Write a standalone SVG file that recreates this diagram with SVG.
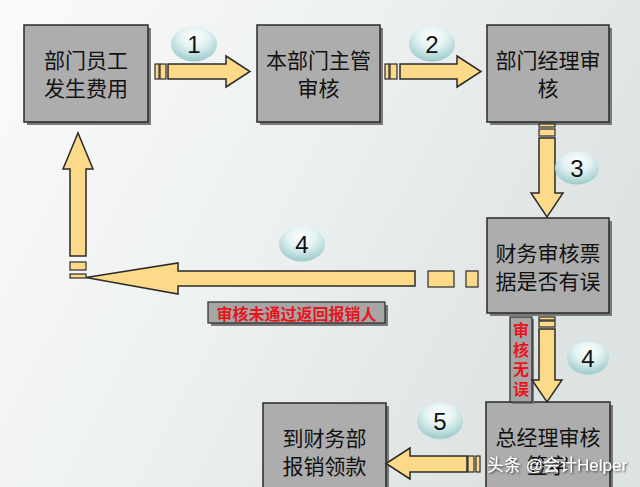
<svg xmlns="http://www.w3.org/2000/svg" width="640" height="487" viewBox="0 0 640 487">
<defs>
<linearGradient id="bg" x1="0" y1="0" x2="1" y2="0.4">
<stop offset="0" stop-color="#fafafa"/>
<stop offset="0.5" stop-color="#eef1f1"/>
<stop offset="1" stop-color="#dde2e2"/>
</linearGradient>
<radialGradient id="bub" cx="0.5" cy="0.3" r="0.7">
<stop offset="0" stop-color="#ffffff"/>
<stop offset="0.45" stop-color="#e2f2f2"/>
<stop offset="1" stop-color="#9ccaca"/>
</radialGradient>
<filter id="ds" x="-10%" y="-30%" width="120%" height="160%">
<feDropShadow dx="1" dy="1" stdDeviation="0.8" flood-color="#000" flood-opacity="0.7"/>
</filter>
<style>
.shadow{fill:#7a7a7a}
.box{fill:#adadad;stroke:#2a2a2a;stroke-width:1.5}
.t{font-family:"Noto Sans CJK SC","Noto Sans",sans-serif;font-size:21px;fill:#111;text-anchor:middle;dominant-baseline:central}
.arr{fill:#fdd98a;stroke:#2a2a2a;stroke-width:1.5;stroke-linejoin:miter}
.bar{fill:#fdd98a;stroke:#2a2a2a;stroke-width:1.2}
.bub{fill:url(#bub)}
.n{font-family:"Liberation Sans",Arial,sans-serif;font-size:24px;fill:#111;text-anchor:middle;dominant-baseline:central}
.lbl{fill:#a6a6a6;stroke:#2a2a2a;stroke-width:1.2}
.red{font-family:"Noto Sans CJK SC",sans-serif;font-size:16px;font-weight:bold;fill:#e8141e;text-anchor:middle;dominant-baseline:central}
.wm{font-family:"Liberation Sans","Noto Sans CJK SC",sans-serif;font-size:17px;fill:#fff;filter:url(#ds)}
</style>
</defs>
<rect width="640" height="487" fill="url(#bg)"/>

<g id="node-employee">
<rect class="shadow" x="27" y="28" width="124" height="97"/>
<rect class="box" x="24" y="25" width="124" height="97"/>
<text class="t" x="86" y="59">部门员工<tspan x="86" dy="28">发生费用</tspan></text>
</g>
<g id="node-supervisor">
<rect class="shadow" x="260" y="28" width="123" height="97"/>
<rect class="box" x="257" y="25" width="123" height="97"/>
<text class="t" x="318.5" y="59">本部门主管<tspan x="318.5" dy="28">审核</tspan></text>
</g>
<g id="node-manager">
<rect class="shadow" x="490" y="28" width="122" height="97"/>
<rect class="box" x="487" y="25" width="122" height="97"/>
<text class="t" x="548" y="59">部门经理审<tspan x="548" dy="28">核</tspan></text>
</g>
<g id="node-finance">
<rect class="shadow" x="490" y="221" width="122" height="95"/>
<rect class="box" x="487" y="218" width="122" height="95"/>
<text class="t" x="548" y="252">财务审核票<tspan x="548" dy="28">据是否有误</tspan></text>
</g>
<g id="node-gm">
<rect class="shadow" x="489" y="405" width="124" height="100"/>
<rect class="box" x="486" y="402" width="124" height="100"/>
<text class="t" x="548" y="436">总经理审核<tspan x="548" dy="28">签字</tspan></text>
</g>
<g id="node-reimburse">
<rect class="shadow" x="266" y="406" width="123" height="100"/>
<rect class="box" x="263" y="403" width="123" height="100"/>
<text class="t" x="324.5" y="437">到财务部<tspan x="324.5" dy="28">报销领款</tspan></text>
</g>

<g id="connectors">
<!-- 1 -->
<rect class="bar" x="155" y="64" width="4" height="15"/>
<rect class="bar" x="160" y="64" width="6" height="15"/>
<path class="arr" d="M168,64 H226 V56 L250,71.5 L226,87 V79 H168 Z"/>
<ellipse class="bub" cx="194" cy="44" rx="23" ry="17.5"/>
<text class="n" x="194" y="44">1</text>
<!-- 2 -->
<rect class="bar" x="385" y="64" width="4" height="15"/>
<rect class="bar" x="390" y="64" width="7" height="15"/>
<path class="arr" d="M400,64 H457 V56 L481,71.5 L457,87 V79 H400 Z"/>
<ellipse class="bub" cx="432" cy="44" rx="23" ry="17.5"/>
<text class="n" x="432" y="44">2</text>
<!-- 3 -->
<rect class="bar" x="539" y="124" width="16" height="3"/>
<rect class="bar" x="539" y="129" width="16" height="7"/>
<path class="arr" d="M539,138 V193 H531 L547,217 L563,193 H555 V138 Z"/>
<ellipse class="bub" cx="577" cy="168" rx="22" ry="16.5"/>
<text class="n" x="577" y="168">3</text>
<!-- 4 back -->
<rect class="bar" x="428" y="271" width="26" height="16"/>
<rect class="bar" x="466" y="271" width="12" height="16"/>
<path class="arr" d="M415,271 H178 V263 L86,277.5 L178,294 V286 H415 Z"/>
<rect class="bar" x="70" y="262" width="16" height="8"/>
<rect class="bar" x="70" y="274" width="16" height="4"/>
<path class="arr" d="M70,256 V169 H63 L78,133 L93,169 H86 V256 Z"/>
<ellipse class="bub" cx="302" cy="244" rx="23" ry="17.5"/>
<text class="n" x="302" y="244">4</text>
<rect class="shadow" x="211" y="305" width="177" height="21"/>
<rect class="lbl" x="208" y="302" width="177" height="21"/>
<text class="red" x="296.5" y="312.5">审核未通过返回报销人</text>
<!-- 4 ok -->
<rect class="shadow" x="512" y="319" width="22" height="85"/>
<rect class="lbl" x="510" y="317" width="22" height="85"/>
<text class="red" x="521" y="322" font-size="15" style="writing-mode:vertical-rl;text-anchor:start;letter-spacing:3.5px">审核无误</text>
<rect class="bar" x="539" y="317" width="16" height="3"/>
<rect class="bar" x="539" y="321" width="16" height="6"/>
<path class="arr" d="M539,329 V380 H532 L547,402 L562,380 H555 V329 Z"/>
<ellipse class="bub" cx="588" cy="358" rx="21" ry="16.5"/>
<text class="n" x="588" y="358">4</text>
<!-- 5 -->
<rect class="bar" x="468" y="456" width="6" height="16"/>
<rect class="bar" x="476" y="456" width="4" height="16"/>
<path class="arr" d="M467,456 H410 V448 L386,463.5 L410,479 V472 H467 Z"/>
<ellipse class="bub" cx="440" cy="421" rx="23" ry="18"/>
<text class="n" x="440" y="421">5</text>
</g>

<text class="wm" x="487" y="471">头条 @会计Helper</text>
</svg>
